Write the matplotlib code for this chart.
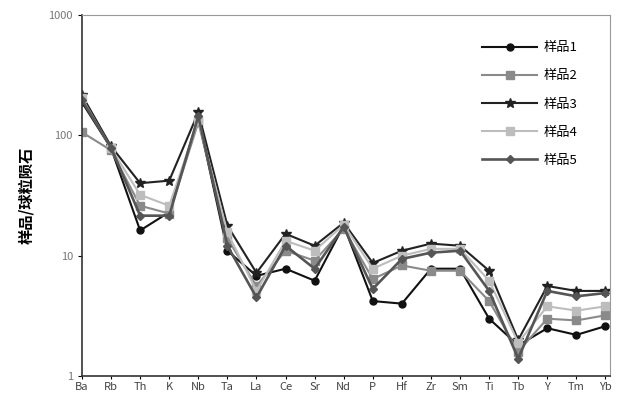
import numpy as np
import matplotlib
matplotlib.use("Agg")
import matplotlib.pyplot as plt

plt.rcParams['font.family'] = ['Noto Sans CJK SC', 'DejaVu Sans']

# 元素 (Thompson 1982 球粒陨石标准化顺序)
elements = ['Ba', 'Rb', 'Th', 'K', 'Nb', 'Ta', 'La', 'Ce', 'Sr', 'Nd',
            'P', 'Hf', 'Zr', 'Sm', 'Ti', 'Tb', 'Y', 'Tm', 'Yb']

names = ['样品1', '样品2', '样品3', '样品4', '样品5']

s1 = [188, 78, 16.2, 23, 139, 11.0, 6.8, 7.8, 6.2, 17.8, 4.2, 4.0, 7.8, 7.8, 3.0, 1.8, 2.5, 2.2, 2.6]
s2 = [106, 75, 26, 22.4, 128, 13.9, 5.6, 11.0, 9.1, 16.8, 6.4, 8.3, 7.5, 7.5, 4.2, 1.6, 3.0, 2.9, 3.2]
s3 = [215, 81, 40, 42, 155, 17.8, 7.2, 15.2, 12.1, 18.8, 8.7, 11.0, 12.6, 12.1, 7.5, 2.0, 5.6, 5.1, 5.1]
s4 = [203, 78, 32, 26, 133, 15.6, 5.1, 13.3, 11.0, 18.1, 7.8, 10, 11.4, 11.4, 6.2, 1.9, 3.8, 3.5, 3.8]
s5 = [196, 79, 21.5, 21.5, 144, 12.1, 4.5, 12.1, 7.8, 17.4, 5.3, 9.4, 10.6, 11.0, 5.1, 1.4, 5.1, 4.6, 4.9]

series = [s1, s2, s3, s4, s5]
styles = [
    dict(color='#111111', marker='o', ms=5, lw=1.5),
    dict(color='#8a8a8a', marker='s', ms=6, lw=1.5),
    dict(color='#222222', marker='*', ms=7, lw=1.5),
    dict(color='#bdbdbd', marker='s', ms=6, lw=1.5),
    dict(color='#555555', marker='D', ms=4.5, lw=1.9),
]

fig = plt.figure(figsize=(6.21, 4.01), dpi=100)
ax = fig.add_axes([0.132, 0.062, 0.85, 0.901])

x = np.arange(len(elements))
for vals, name, st in zip(series, names, styles):
    ax.plot(x, vals, label=name, **st)

ax.set_yscale('log')
ax.set_ylim(1, 1000)
ax.set_xlim(0, len(elements) - 1 + 0.15)
ax.set_yticks([1, 10, 100, 1000])
ax.set_yticklabels(['1', '10', '100', '1000'])
ax.minorticks_off()
ax.set_xticks(x)
ax.set_xticklabels(elements, fontsize=8, color='#444444')
ax.tick_params(axis='y', labelsize=8, labelcolor='#777777', length=3)
ax.tick_params(axis='x', length=2, pad=2)
for side in ['top', 'right']:
    ax.spines[side].set_color('#999999')
for side in ['left', 'bottom']:
    ax.spines[side].set_color('#333333')
    ax.spines[side].set_linewidth(1.2)

ax.set_ylabel('样品/球粒陨石', fontsize=11, fontweight='bold', labelpad=10)

ax.legend(loc='upper left', bbox_to_anchor=(0.735, 0.96), frameon=False,
          fontsize=9.5, handlelength=4.2, labelspacing=1.15, handletextpad=0.5)

fig.savefig('out.png', dpi=100)
